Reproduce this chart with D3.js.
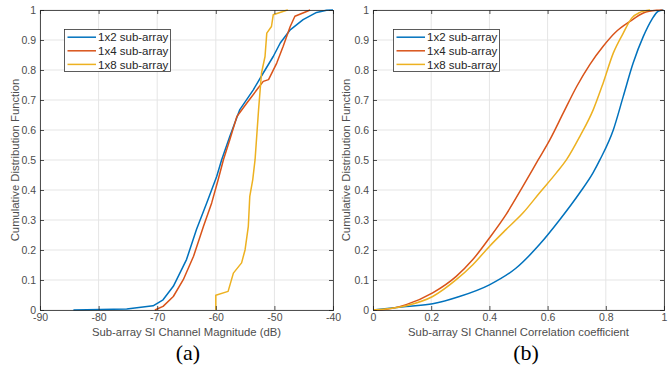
<!DOCTYPE html>
<html>
<head>
<meta charset="utf-8">
<script src="https://cdn.jsdelivr.net/npm/d3@7"></script>
<style>
  body { margin: 0; background: #fff; }
  svg { display: block; }
  text { font-family: "Liberation Sans", Arial, sans-serif; }
</style>
</head>
<body>
<svg id="chart" width="668" height="366"></svg>
<script>
// series names + colours (MATLAB default order)
const seriesNames = ['1x2 sub-array', '1x4 sub-array', '1x8 sub-array'];
const colors = ['#0072BD', '#D95319', '#EDB120'];

const yTicks = [0, 0.1, 0.2, 0.3, 0.4, 0.5, 0.6, 0.7, 0.8, 0.9, 1];
const xTicksA = [-90, -80, -70, -60, -50, -40];
const xTicksB = [0, 0.2, 0.4, 0.6, 0.8, 1];

// panel (a): SI channel magnitude (dB) vs CDF
const magX12 = [-84.3, -75.2, -70.7, -69.0, -67.25, -65.0, -63.3, -61.55, -59.85, -59.0, -57.6, -55.9, -53.6, -51.9, -50.2, -49.0, -47.3, -45.1, -42.8, -41.1, -40.0];
const magY12 = [0, 0.003, 0.014, 0.034, 0.079, 0.168, 0.268, 0.357, 0.445, 0.501, 0.579, 0.668, 0.734, 0.79, 0.845, 0.89, 0.934, 0.968, 0.992, 0.999, 1];
const magX14 = [-70.4, -69.0, -67.25, -65.55, -63.8, -62.1, -60.7, -59.6, -58.7, -57.6, -56.4, -54.7, -53.0, -51.9, -51.0, -49.6, -48.5, -47.3, -46.5, -44.5, -43.9];
const magY14 = [0, 0.012, 0.045, 0.101, 0.179, 0.279, 0.357, 0.434, 0.501, 0.568, 0.645, 0.69, 0.734, 0.762, 0.768, 0.823, 0.879, 0.945, 0.979, 0.995, 1];
const magX18 = [-60.0, -60.0, -57.9, -57.0, -55.6, -55.0, -54.45, -54.2, -53.7, -53.3, -52.7, -52.2, -51.6, -51.3, -50.5, -50.2, -47.9, -47.7];
const magY18 = [0, 0.049, 0.062, 0.123, 0.157, 0.201, 0.279, 0.379, 0.434, 0.501, 0.668, 0.79, 0.845, 0.923, 0.945, 0.984, 0.999, 1];

// panel (b): SI channel correlation coefficient vs CDF
const corX12 = [0, 0.114, 0.205, 0.297, 0.40, 0.492, 0.572, 0.641, 0.71, 0.756, 0.78, 0.826, 0.86, 0.894, 0.929, 0.958, 0.98, 0.998];
const corY12 = [0, 0.012, 0.021, 0.045, 0.084, 0.14, 0.218, 0.30, 0.39, 0.457, 0.501, 0.601, 0.712, 0.823, 0.912, 0.968, 0.996, 1];
const corX14 = [0, 0.033, 0.114, 0.205, 0.286, 0.343, 0.40, 0.457, 0.515, 0.568, 0.608, 0.654, 0.70, 0.745, 0.791, 0.837, 0.883, 0.929, 0.975, 0.995];
const corY14 = [0, 0.001, 0.018, 0.057, 0.112, 0.168, 0.24, 0.318, 0.412, 0.501, 0.568, 0.657, 0.745, 0.818, 0.879, 0.929, 0.962, 0.99, 0.999, 1];
const corX18 = [0, 0.114, 0.205, 0.286, 0.343, 0.40, 0.457, 0.515, 0.572, 0.63, 0.665, 0.711, 0.757, 0.791, 0.826, 0.86, 0.889, 0.917, 0.952];
const corY18 = [0, 0.014, 0.045, 0.101, 0.151, 0.212, 0.268, 0.323, 0.39, 0.457, 0.501, 0.579, 0.668, 0.757, 0.857, 0.923, 0.973, 0.992, 1];

const svg = d3.select('#chart');
const axisColor = '#262626';
const tickTextColor = '#4d4d4d';

function zip(xs, ys) {
  return xs.map((x, i) => [x, ys[i]]);
}

function drawPanel(cfg) {
  const x = d3.scaleLinear().domain(cfg.xDomain).range([cfg.left, cfg.right]);
  const y = d3.scaleLinear().domain([0, 1]).range([cfg.bottom, cfg.top]);
  const g = svg.append('g');

  // grid
  g.append('g').selectAll('line').data(cfg.xTicks).join('line')
    .attr('x1', d => x(d)).attr('x2', d => x(d))
    .attr('y1', cfg.top).attr('y2', cfg.bottom)
    .attr('stroke', '#e5e5e5').attr('stroke-width', 1);
  g.append('g').selectAll('line').data(yTicks).join('line')
    .attr('x1', cfg.left).attr('x2', cfg.right)
    .attr('y1', d => y(d)).attr('y2', d => y(d))
    .attr('stroke', '#e5e5e5').attr('stroke-width', 1);

  // lines
  const line = d3.line().x(d => x(d[0])).y(d => y(d[1])).curve(cfg.curve);
  cfg.series.forEach((s, i) => {
    g.append('path')
      .datum(s)
      .attr('d', line)
      .attr('fill', 'none')
      .attr('stroke', colors[i])
      .attr('stroke-width', 1.5)
      .attr('stroke-linejoin', 'round');
  });

  // axes (ticks inside, box on)
  const tl = 4;
  const xAxis = d3.axisBottom(x).tickValues(cfg.xTicks).tickSize(-tl).tickPadding(4)
    .tickFormat(d => String(d));
  const yAxis = d3.axisLeft(y).tickValues(yTicks).tickSize(-tl).tickPadding(4)
    .tickFormat(d => String(d));

  g.append('g').attr('transform', `translate(0,${cfg.bottom})`).call(xAxis);
  g.append('g').attr('transform', `translate(${cfg.left},0)`).call(yAxis);
  g.append('g').attr('transform', `translate(0,${cfg.top})`)
    .call(d3.axisTop(x).tickValues(cfg.xTicks).tickSize(-tl).tickFormat(''));
  g.append('g').attr('transform', `translate(${cfg.right},0)`)
    .call(d3.axisRight(y).tickValues(yTicks).tickSize(-tl).tickFormat(''));

  g.selectAll('.domain').attr('stroke', axisColor).attr('stroke-width', 0.8);
  g.selectAll('.tick line').attr('stroke', axisColor).attr('stroke-width', 0.8);
  g.selectAll('.tick text')
    .attr('fill', tickTextColor)
    .style('font-size', '10.5px')
    .style('font-family', '"Liberation Sans", Arial, sans-serif');

  // axis labels
  g.append('text')
    .attr('x', (cfg.left + cfg.right) / 2).attr('y', cfg.bottom + 26)
    .attr('text-anchor', 'middle')
    .attr('fill', tickTextColor)
    .style('font-size', '11.3px')
    .text(cfg.xLabel);
  g.append('text')
    .attr('transform', `translate(${cfg.yLabelX},${(cfg.top + cfg.bottom) / 2}) rotate(-90)`)
    .attr('text-anchor', 'middle')
    .attr('fill', tickTextColor)
    .style('font-size', '11.3px')
    .text('Cumulative Distribution Function');

  // (a)/(b)
  g.append('text')
    .attr('x', (cfg.left + cfg.right) / 2 + cfg.tagShift).attr('y', cfg.bottom + 50)
    .attr('text-anchor', 'middle')
    .attr('fill', '#000')
    .style('font-family', '"Liberation Serif", "Times New Roman", serif')
    .style('font-size', '22px')
    .text(cfg.tag);

  // legend
  const lg = g.append('g').attr('transform', `translate(${cfg.legX},${cfg.legY})`);
  lg.append('rect')
    .attr('width', 106).attr('height', 42)
    .attr('fill', '#fff').attr('stroke', '#333').attr('stroke-width', 0.8);
  seriesNames.forEach((name, i) => {
    const yy = 7.7 + i * 13.6;
    lg.append('line')
      .attr('x1', 3).attr('x2', 31.5).attr('y1', yy).attr('y2', yy)
      .attr('stroke', colors[i]).attr('stroke-width', 1.5);
    lg.append('text')
      .attr('x', 33.5).attr('y', yy + 4.2)
      .attr('fill', axisColor)
      .style('font-size', '11.5px')
      .text(name);
  });
}

drawPanel({
  left: 40, right: 333, top: 10, bottom: 310,
  xDomain: [-90, -40], xTicks: xTicksA, curve: d3.curveLinear,
  xLabel: 'Sub-array SI Channel Magnitude (dB)',
  yLabelX: 19, tag: '(a)', tagShift: 1.5, legX: 64.5, legY: 29.5,
  series: [zip(magX12, magY12), zip(magX14, magY14), zip(magX18, magY18)]
});

drawPanel({
  left: 373, right: 664, top: 10, bottom: 310,
  xDomain: [0, 1], xTicks: xTicksB, curve: d3.curveMonotoneX,
  xLabel: 'Sub-array SI Channel Correlation coefficient',
  yLabelX: 350, tag: '(b)', tagShift: 7.5, legX: 393.5, legY: 29.5,
  series: [zip(corX12, corY12), zip(corX14, corY14), zip(corX18, corY18)]
});
</script>
</body>
</html>
